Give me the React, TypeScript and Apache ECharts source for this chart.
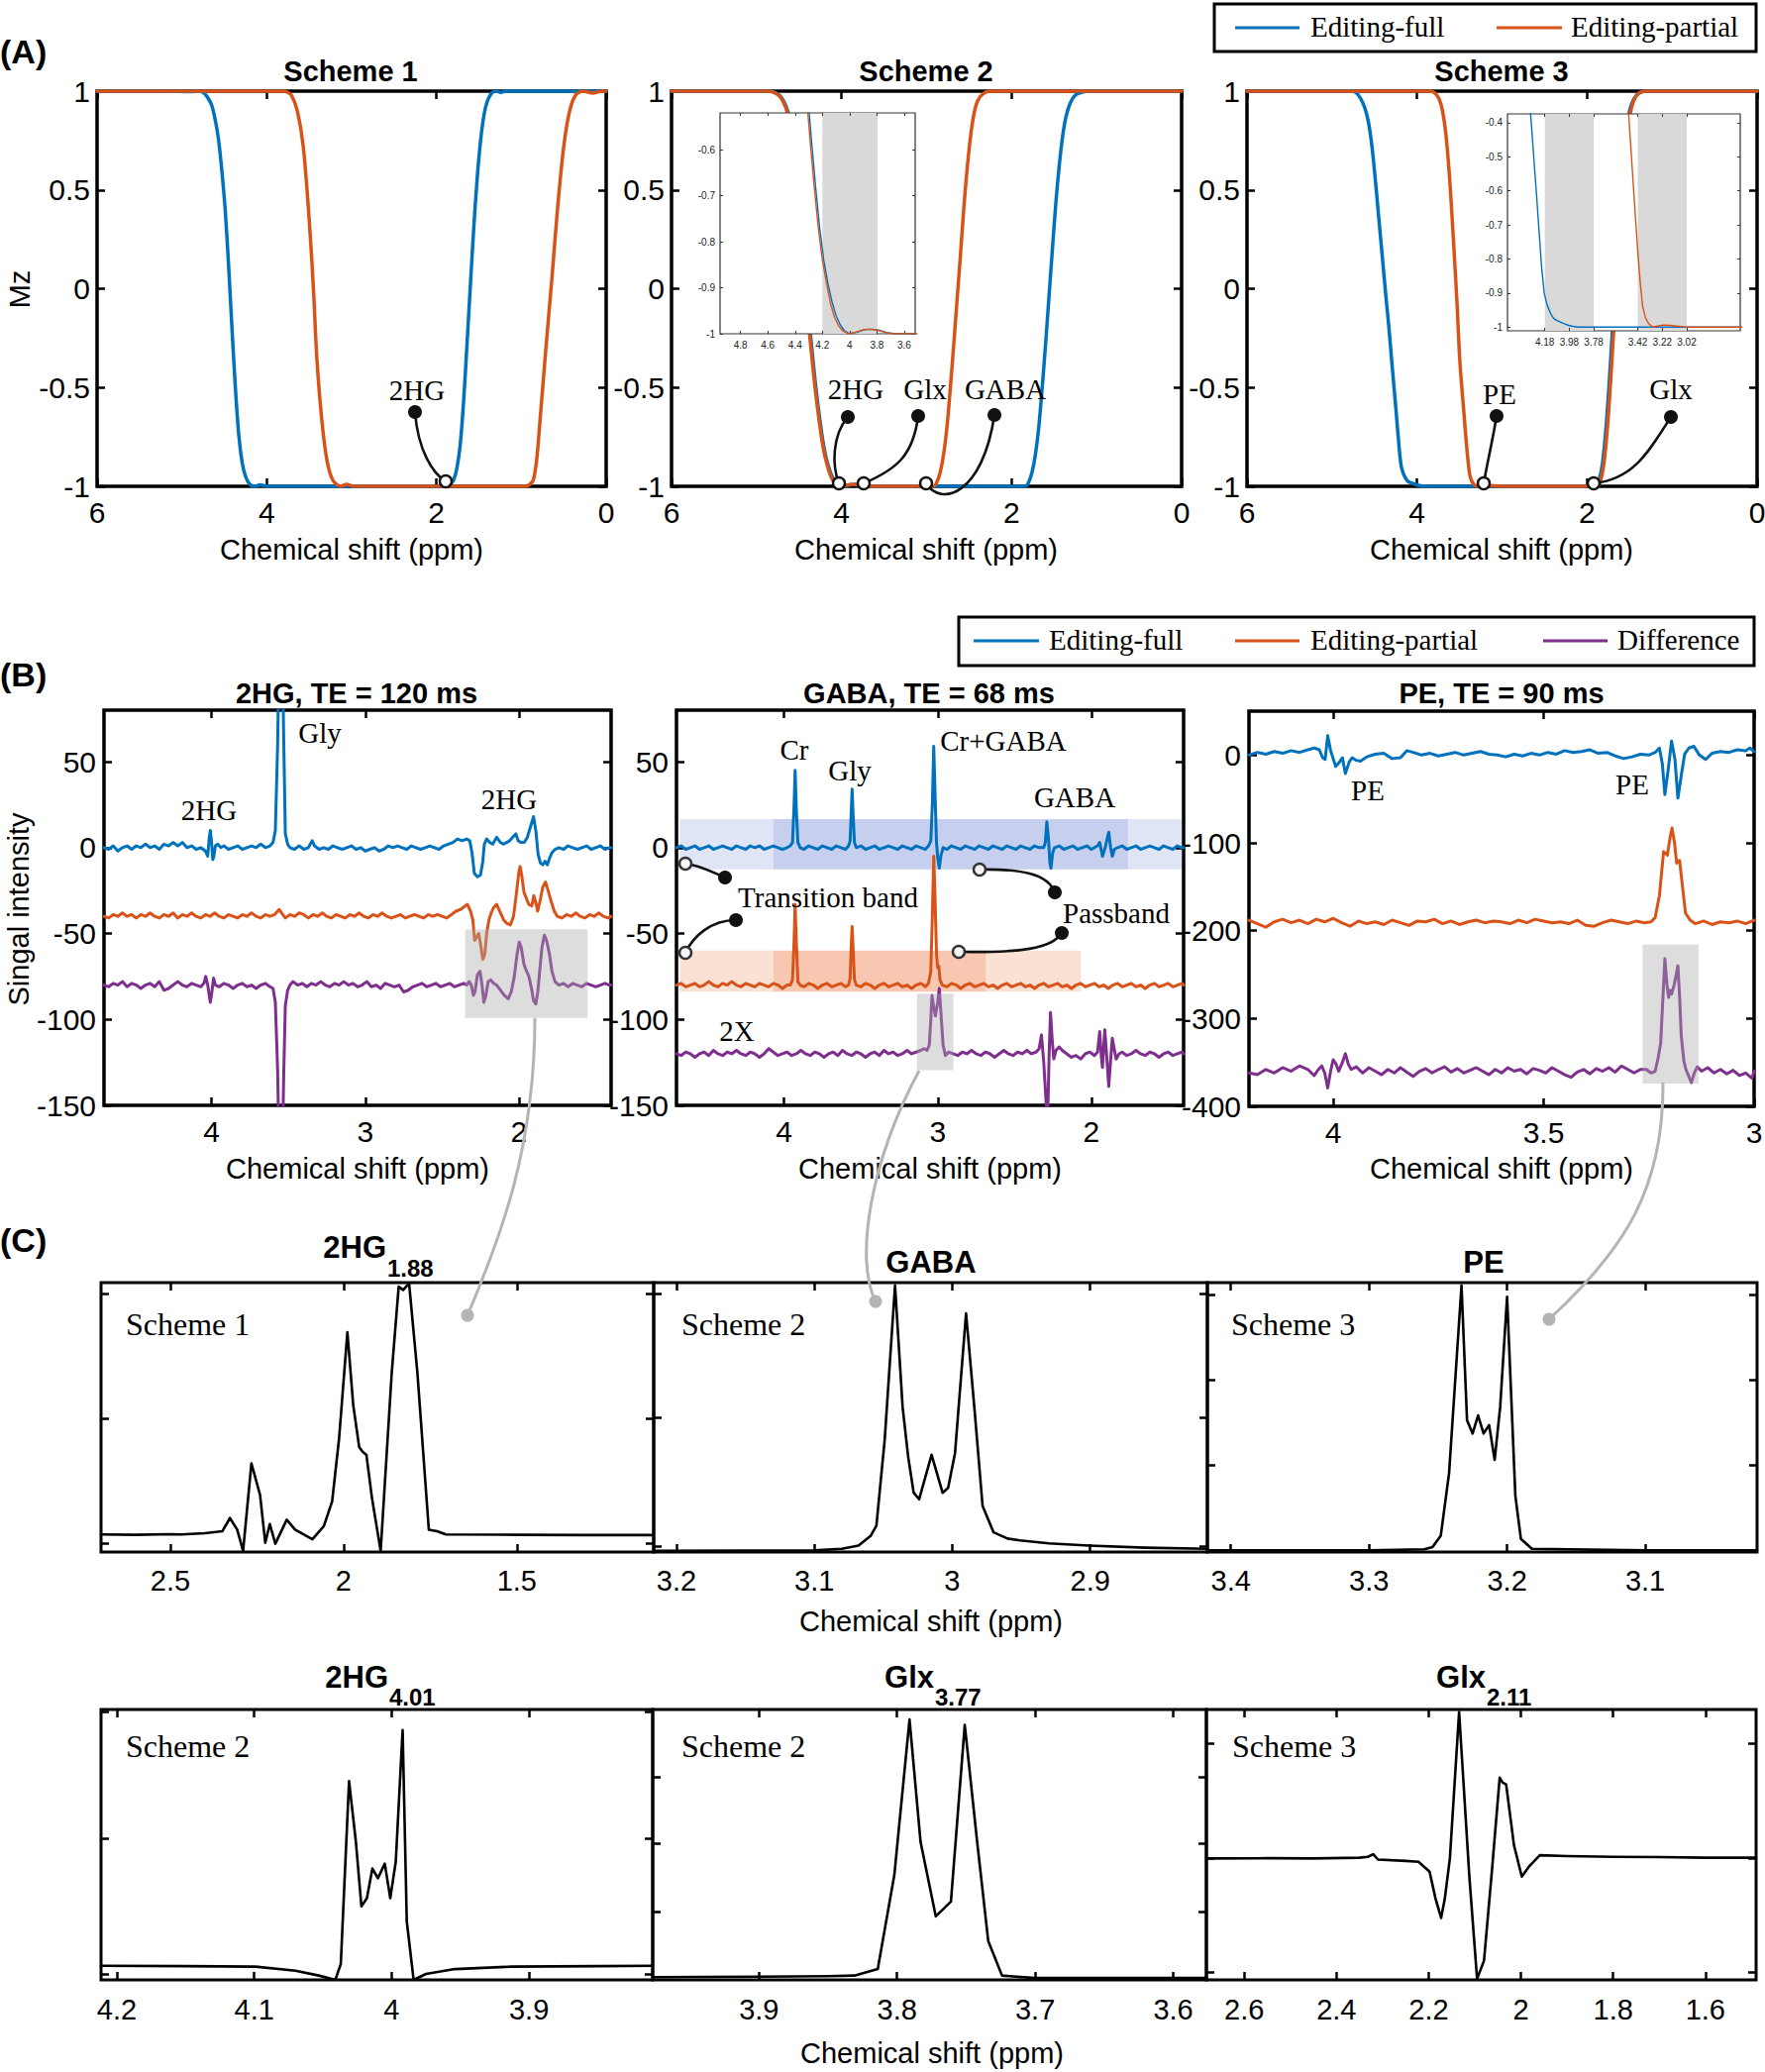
import React, { useEffect, useRef } from 'react';
import * as echarts from 'echarts';

const SANS = '"Liberation Sans", Arial, Helvetica, sans-serif';
const SERIF = '"Liberation Serif", "Times New Roman", serif';
const BLUE = '#0072BD';
const ORANGE = '#D95319';
const PURPLE = '#7E2F8E';
const BLACK = '#000000';

// ---------------- (A) Mz profiles, [ppm, Mz] ----------------
const mzTicksX = [0, 2, 4, 6];
const mzTicksY = [-1, -0.5, 0, 0.5, 1];

const s1Full = [[6,1],[5.2,1],[4.9,0.998],[4.78,1],[4.74,0.99],[4.7,0.97],[4.65,0.93],[4.61,0.86],[4.57,0.76],[4.53,0.6],[4.49,0.4],[4.45,0.12],[4.41,-0.2],[4.37,-0.5],[4.33,-0.74],[4.29,-0.88],[4.25,-0.95],[4.2,-0.99],[4.14,-1],[4.08,-0.993],[4.0,-1],[1.88,-1],[1.84,-0.99],[1.8,-0.97],[1.76,-0.91],[1.72,-0.79],[1.68,-0.57],[1.64,-0.28],[1.6,0.02],[1.56,0.31],[1.52,0.56],[1.48,0.75],[1.44,0.88],[1.4,0.95],[1.35,0.99],[1.3,1],[1.24,0.993],[1.18,1],[0,1]];
const s1Part = [[6,1],[3.8,1],[3.76,0.995],[3.71,0.98],[3.64,0.9],[3.57,0.72],[3.5,0.35],[3.45,0],[3.41,-0.35],[3.35,-0.67],[3.29,-0.87],[3.22,-0.97],[3.13,-1],[3.06,-0.99],[2.98,-1],[0.95,-1],[0.9,-0.99],[0.86,-0.97],[0.82,-0.87],[0.78,-0.67],[0.71,-0.3],[0.64,0.05],[0.57,0.42],[0.5,0.72],[0.43,0.9],[0.36,0.98],[0.27,1],[0.16,0.99],[0.05,1],[0,1]];
const s2Full = [[6,1],[4.84,1],[4.77,0.99],[4.71,0.97],[4.65,0.92],[4.6,0.84],[4.55,0.68],[4.5,0.45],[4.45,0.18],[4.4,-0.08],[4.35,-0.3],[4.31,-0.47],[4.28,-0.58],[4.25,-0.68],[4.22,-0.77],[4.19,-0.84],[4.16,-0.89],[4.13,-0.93],[4.1,-0.96],[4.07,-0.98],[4.04,-0.993],[4.0,-1],[3.95,-0.997],[3.89,-0.991],[3.84,-0.99],[3.79,-0.992],[3.73,-0.997],[3.67,-1],[1.84,-1],[1.8,-0.98],[1.76,-0.93],[1.72,-0.84],[1.68,-0.7],[1.64,-0.5],[1.6,-0.28],[1.56,-0.04],[1.52,0.2],[1.48,0.43],[1.44,0.62],[1.4,0.77],[1.36,0.87],[1.31,0.94],[1.25,0.98],[1.17,0.995],[1.08,1],[0,1]];
const s2Part = [[6,1],[4.85,1],[4.78,0.99],[4.72,0.97],[4.66,0.92],[4.61,0.84],[4.56,0.68],[4.51,0.45],[4.46,0.18],[4.41,-0.08],[4.36,-0.3],[4.32,-0.47],[4.29,-0.58],[4.26,-0.68],[4.23,-0.77],[4.2,-0.84],[4.17,-0.89],[4.14,-0.935],[4.11,-0.965],[4.08,-0.983],[4.05,-0.994],[4.01,-1],[3.96,-0.997],[3.9,-0.991],[3.85,-0.99],[3.8,-0.992],[3.74,-0.997],[3.68,-1],[2.92,-1],[2.88,-0.98],[2.84,-0.93],[2.8,-0.84],[2.76,-0.7],[2.72,-0.5],[2.68,-0.28],[2.64,-0.05],[2.6,0.18],[2.56,0.42],[2.52,0.62],[2.48,0.78],[2.44,0.89],[2.4,0.95],[2.34,0.985],[2.26,1],[0,1]];
const s3Full = [[6,1],[4.76,1],[4.71,0.99],[4.66,0.96],[4.61,0.91],[4.57,0.84],[4.53,0.72],[4.49,0.55],[4.45,0.36],[4.41,0.17],[4.37,-0.02],[4.33,-0.2],[4.296,-0.374],[4.25,-0.6],[4.207,-0.82],[4.185,-0.9],[4.161,-0.935],[4.13,-0.962],[4.107,-0.975],[4.08,-0.981],[4.053,-0.985],[4.02,-0.99],[3.986,-0.995],[3.95,-0.998],[3.905,-1],[1.9,-1],[1.86,-0.97],[1.82,-0.89],[1.78,-0.72],[1.74,-0.48],[1.7,-0.2],[1.66,0.1],[1.62,0.37],[1.58,0.6],[1.54,0.78],[1.5,0.9],[1.45,0.96],[1.39,0.99],[1.3,1],[0,1]];
const s3Part = [[6,1],[3.84,1],[3.79,0.99],[3.74,0.96],[3.7,0.9],[3.66,0.78],[3.62,0.58],[3.59,0.38],[3.56,0.16],[3.53,-0.07],[3.495,-0.374],[3.45,-0.62],[3.42,-0.78],[3.4,-0.87],[3.38,-0.94],[3.355,-0.975],[3.33,-0.99],[3.3,-1],[3.26,-0.997],[3.21,-0.994],[3.16,-0.995],[3.1,-0.997],[3.05,-0.999],[3.0,-1],[1.88,-1],[1.84,-0.97],[1.8,-0.88],[1.76,-0.7],[1.72,-0.45],[1.68,-0.16],[1.64,0.14],[1.6,0.4],[1.56,0.62],[1.52,0.8],[1.48,0.91],[1.43,0.97],[1.37,0.995],[1.3,1],[0,1]];

// insets
const in2TicksX = [3.6, 3.8, 4, 4.2, 4.4, 4.6, 4.8];
const in2TicksY = [-1, -0.9, -0.8, -0.7, -0.6];
const in2Band = [{ x: [4.2, 3.795], y: [-1, -0.52] }];
const in3TicksX = [3.02, 3.22, 3.42, 3.78, 3.98, 4.18];
const in3TicksY = [-1, -0.9, -0.8, -0.7, -0.6, -0.5, -0.4];
const in3Bands = [{ x: [4.18, 3.78], y: [-1.011, -0.374] }, { x: [3.42, 3.02], y: [-1.011, -0.374] }];

// ---------------- (B) spectra, [ppm, signal] ----------------
const bTicksX = [2, 3, 4];
const bTicksY = [-150, -100, -50, 0, 50];
const b3TicksX = [3, 3.5, 4];
const b3TicksY = [-400, -300, -200, -100, 0];

const b1Full = [[4.70,0],[4.67,-1],[4.64,1],[4.61,-2],[4.58,0],[4.55,1],[4.52,-1],[4.49,1],[4.46,0],[4.43,2],[4.40,0],[4.37,1],[4.34,-1],[4.31,2],[4.28,1],[4.25,3],[4.22,1],[4.19,3],[4.16,0],[4.13,1],[4.10,-1],[4.07,0],[4.04,-2],[4.025,-5],[4.015,6],[4.008,10],[4.0,3],[3.992,-7],[3.985,-5],[3.975,1],[3.96,2],[3.94,0],[3.92,1],[3.89,-1],[3.86,0],[3.83,1],[3.80,-1],[3.77,0],[3.74,1],[3.71,0],[3.68,2],[3.65,0],[3.62,1],[3.60,3],[3.585,10],[3.57,60],[3.56,120],[3.54,120],[3.53,60],[3.52,8],[3.505,2],[3.49,0],[3.46,-1],[3.43,1],[3.40,-1],[3.37,0],[3.345,4],[3.33,1],[3.30,-1],[3.27,0],[3.24,-1],[3.21,1],[3.18,0],[3.15,-1],[3.12,0],[3.09,1],[3.06,-1],[3.03,0],[3.0,-2],[2.97,-1],[2.94,0],[2.91,-2],[2.88,-1],[2.85,1],[2.82,0],[2.79,1],[2.76,0],[2.73,-1],[2.70,1],[2.67,0],[2.64,-1],[2.61,0],[2.58,1],[2.55,0],[2.52,-1],[2.49,1],[2.46,2],[2.43,3],[2.40,5],[2.37,4],[2.34,5],[2.32,4],[2.305,-3],[2.29,-15],[2.27,-17],[2.25,-16],[2.235,-8],[2.225,2],[2.21,5],[2.19,3],[2.17,2],[2.145,6],[2.12,3],[2.10,2],[2.08,3],[2.06,4],[2.04,6],[2.02,8],[2.005,4],[1.985,3],[1.965,3],[1.945,6],[1.925,12],[1.905,18],[1.89,10],[1.875,-4],[1.86,-9],[1.845,-10],[1.83,-8],[1.815,-10],[1.80,-6],[1.785,-3],[1.765,-1],[1.74,0],[1.71,-1],[1.68,1],[1.65,0],[1.62,-1],[1.59,0],[1.56,1],[1.53,-1],[1.50,0],[1.47,1],[1.44,-1],[1.41,0],[1.40,0]];
const b1Part = [[4.70,-40],[4.67,-41],[4.64,-39],[4.61,-40],[4.58,-38],[4.55,-40],[4.52,-39],[4.49,-41],[4.46,-39],[4.43,-40],[4.40,-38],[4.37,-40],[4.34,-41],[4.31,-39],[4.28,-40],[4.25,-38],[4.22,-41],[4.19,-39],[4.16,-40],[4.13,-38],[4.10,-40],[4.07,-41],[4.04,-39],[4.01,-40],[3.98,-38],[3.95,-40],[3.92,-41],[3.89,-39],[3.86,-40],[3.83,-41],[3.80,-39],[3.77,-40],[3.74,-38],[3.71,-40],[3.68,-41],[3.65,-39],[3.62,-40],[3.59,-39],[3.56,-36],[3.545,-38],[3.52,-41],[3.49,-39],[3.46,-40],[3.43,-38],[3.40,-39],[3.37,-41],[3.34,-39],[3.31,-40],[3.28,-38],[3.25,-40],[3.22,-41],[3.19,-39],[3.16,-40],[3.13,-41],[3.10,-39],[3.07,-40],[3.04,-38],[3.01,-40],[2.98,-41],[2.95,-39],[2.92,-40],[2.89,-38],[2.86,-40],[2.83,-41],[2.80,-40],[2.77,-39],[2.74,-41],[2.71,-40],[2.68,-39],[2.65,-40],[2.62,-41],[2.59,-39],[2.56,-40],[2.53,-39],[2.50,-40],[2.47,-41],[2.44,-39],[2.41,-37],[2.38,-36],[2.35,-34],[2.335,-33],[2.315,-37],[2.30,-42],[2.288,-54],[2.275,-52],[2.262,-50],[2.25,-56],[2.235,-65],[2.222,-62],[2.21,-50],[2.195,-42],[2.18,-38],[2.165,-35],[2.145,-33],[2.125,-37],[2.10,-42],[2.08,-44],[2.056,-45],[2.035,-40],[2.018,-28],[2.0,-14],[1.992,-11],[1.982,-16],[1.967,-26],[1.954,-29],[1.936,-33],[1.916,-34],[1.903,-28],[1.89,-32],[1.878,-37],[1.86,-30],[1.845,-23],[1.827,-20],[1.81,-25],[1.788,-32],[1.77,-37],[1.75,-40],[1.72,-41],[1.69,-39],[1.66,-40],[1.63,-38],[1.60,-40],[1.57,-41],[1.54,-39],[1.51,-40],[1.48,-38],[1.45,-40],[1.42,-41],[1.40,-40]];
const b1Diff = [[4.70,-80],[4.67,-81],[4.64,-79],[4.61,-80],[4.58,-78],[4.55,-81],[4.52,-79],[4.49,-80],[4.46,-82],[4.43,-80],[4.40,-79],[4.37,-81],[4.34,-78],[4.31,-83],[4.28,-82],[4.25,-80],[4.22,-78],[4.19,-80],[4.16,-81],[4.13,-79],[4.10,-80],[4.07,-81],[4.05,-79],[4.038,-75],[4.025,-80],[4.008,-90],[3.998,-84],[3.987,-76],[3.975,-80],[3.95,-81],[3.92,-79],[3.89,-80],[3.86,-82],[3.83,-80],[3.80,-79],[3.77,-81],[3.74,-80],[3.71,-82],[3.68,-80],[3.65,-79],[3.62,-81],[3.60,-82],[3.585,-90],[3.57,-130],[3.56,-180],[3.54,-180],[3.53,-130],[3.52,-92],[3.505,-83],[3.49,-80],[3.47,-78],[3.44,-80],[3.41,-79],[3.38,-81],[3.35,-79],[3.32,-80],[3.29,-78],[3.26,-80],[3.23,-81],[3.20,-79],[3.17,-80],[3.14,-78],[3.11,-80],[3.08,-79],[3.05,-81],[3.02,-80],[2.99,-78],[2.96,-81],[2.93,-80],[2.90,-82],[2.87,-79],[2.84,-80],[2.81,-81],[2.78,-80],[2.75,-84],[2.72,-83],[2.69,-81],[2.66,-80],[2.63,-79],[2.60,-81],[2.57,-80],[2.54,-79],[2.51,-81],[2.48,-80],[2.45,-79],[2.42,-81],[2.39,-80],[2.36,-79],[2.34,-80],[2.324,-78],[2.31,-80],[2.296,-86],[2.286,-84],[2.27,-74],[2.253,-72],[2.24,-80],[2.228,-90],[2.215,-86],[2.2,-78],[2.184,-77],[2.165,-79],[2.145,-80],[2.12,-83],[2.095,-86],[2.07,-88],[2.05,-84],[2.03,-75],[2.012,-62],[1.998,-55],[1.985,-58],[1.967,-68],[1.95,-72],[1.935,-75],[1.918,-82],[1.905,-89],[1.89,-91],[1.877,-84],[1.865,-72],[1.85,-58],[1.834,-51],[1.82,-54],[1.801,-62],[1.785,-72],[1.765,-78],[1.74,-80],[1.71,-79],[1.68,-81],[1.65,-79],[1.62,-80],[1.59,-81],[1.56,-79],[1.53,-80],[1.50,-81],[1.47,-80],[1.44,-79],[1.41,-80],[1.40,-80]];

const b2Full = [[4.70,0],[4.67,1],[4.64,-1],[4.61,0],[4.58,1],[4.55,-1],[4.52,0],[4.49,1],[4.46,-1],[4.43,0],[4.40,1],[4.37,0],[4.34,-1],[4.31,1],[4.28,0],[4.25,-1],[4.22,1],[4.19,0],[4.16,1],[4.13,-1],[4.10,0],[4.07,1],[4.04,0],[4.01,-1],[3.98,0],[3.96,1],[3.945,3],[3.935,24],[3.928,45],[3.92,22],[3.91,3],[3.895,0],[3.87,-1],[3.84,1],[3.81,0],[3.78,-1],[3.75,1],[3.72,0],[3.69,-1],[3.66,1],[3.63,0],[3.60,-1],[3.58,1],[3.57,4],[3.563,20],[3.557,34],[3.55,18],[3.542,3],[3.53,0],[3.50,1],[3.47,-1],[3.44,0],[3.41,1],[3.38,-1],[3.35,0],[3.32,1],[3.29,0],[3.26,-1],[3.23,1],[3.20,0],[3.17,-1],[3.14,1],[3.11,0],[3.08,-1],[3.06,1],[3.045,4],[3.035,25],[3.026,59],[3.017,30],[3.008,3],[3.0,-6],[2.99,-12],[2.98,-5],[2.965,0],[2.94,-1],[2.91,1],[2.88,0],[2.85,-1],[2.82,1],[2.79,0],[2.76,-1],[2.73,1],[2.70,0],[2.67,-1],[2.64,1],[2.61,0],[2.58,-1],[2.55,1],[2.52,0],[2.49,-1],[2.46,1],[2.43,0],[2.40,-1],[2.37,1],[2.34,0],[2.31,0],[2.30,3],[2.29,15],[2.28,6],[2.27,-9],[2.263,-12],[2.252,-3],[2.24,0],[2.21,1],[2.18,-1],[2.15,0],[2.12,1],[2.09,-1],[2.06,0],[2.03,1],[2.0,-1],[1.98,0],[1.96,1],[1.946,3],[1.928,-5],[1.91,0],[1.898,5],[1.887,9],[1.875,0],[1.864,-5],[1.85,-1],[1.83,0],[1.80,1],[1.77,-1],[1.74,0],[1.71,1],[1.68,-1],[1.65,0],[1.62,1],[1.59,0],[1.56,-1],[1.53,1],[1.50,0],[1.47,-1],[1.44,1],[1.41,0],[1.40,0]];
const b2Part = [[4.70,-80],[4.67,-79],[4.64,-81],[4.61,-80],[4.58,-79],[4.55,-81],[4.52,-80],[4.49,-78],[4.46,-80],[4.43,-81],[4.40,-79],[4.37,-80],[4.34,-78],[4.31,-80],[4.28,-81],[4.25,-79],[4.22,-80],[4.19,-81],[4.16,-79],[4.13,-80],[4.10,-81],[4.07,-79],[4.04,-80],[4.01,-82],[3.98,-80],[3.96,-80],[3.945,-77],[3.935,-55],[3.928,-33],[3.92,-55],[3.91,-78],[3.895,-80],[3.87,-81],[3.84,-79],[3.81,-80],[3.78,-82],[3.75,-80],[3.72,-79],[3.69,-81],[3.66,-80],[3.63,-79],[3.60,-81],[3.58,-80],[3.57,-76],[3.563,-58],[3.557,-46],[3.55,-60],[3.542,-77],[3.53,-80],[3.50,-81],[3.47,-79],[3.44,-80],[3.41,-82],[3.38,-80],[3.35,-79],[3.32,-81],[3.29,-80],[3.26,-79],[3.23,-81],[3.20,-80],[3.17,-82],[3.14,-80],[3.11,-79],[3.08,-81],[3.06,-79],[3.045,-72],[3.035,-40],[3.026,-5],[3.017,-30],[3.008,-62],[3.0,-70],[2.993,-69],[2.985,-77],[2.97,-80],[2.94,-81],[2.91,-79],[2.88,-80],[2.85,-82],[2.82,-80],[2.79,-79],[2.76,-81],[2.73,-80],[2.70,-79],[2.67,-81],[2.64,-80],[2.61,-82],[2.58,-80],[2.55,-79],[2.52,-81],[2.49,-80],[2.46,-79],[2.43,-81],[2.40,-80],[2.37,-82],[2.34,-80],[2.31,-79],[2.28,-81],[2.25,-80],[2.22,-79],[2.19,-81],[2.16,-80],[2.13,-82],[2.10,-80],[2.07,-79],[2.04,-81],[2.01,-80],[1.98,-79],[1.95,-81],[1.92,-80],[1.89,-82],[1.86,-80],[1.83,-79],[1.80,-81],[1.77,-80],[1.74,-79],[1.71,-81],[1.68,-80],[1.65,-82],[1.62,-80],[1.59,-79],[1.56,-81],[1.53,-80],[1.50,-79],[1.47,-81],[1.44,-80],[1.41,-79],[1.40,-80]];
const b2Diff = [[4.70,-120],[4.67,-121],[4.64,-119],[4.61,-120],[4.58,-122],[4.55,-120],[4.52,-119],[4.49,-121],[4.46,-118],[4.43,-120],[4.40,-121],[4.37,-119],[4.34,-120],[4.31,-118],[4.28,-120],[4.25,-121],[4.22,-119],[4.19,-120],[4.16,-122],[4.13,-120],[4.10,-117],[4.07,-119],[4.04,-121],[4.01,-120],[3.98,-119],[3.95,-121],[3.92,-120],[3.89,-118],[3.86,-120],[3.83,-121],[3.80,-119],[3.77,-120],[3.74,-122],[3.71,-120],[3.68,-119],[3.65,-121],[3.62,-118],[3.59,-120],[3.56,-121],[3.53,-119],[3.50,-120],[3.47,-122],[3.44,-120],[3.41,-119],[3.38,-121],[3.35,-118],[3.32,-120],[3.29,-119],[3.26,-121],[3.23,-120],[3.20,-118],[3.17,-120],[3.14,-119],[3.11,-118],[3.09,-117],[3.07,-118],[3.055,-115],[3.045,-100],[3.037,-86],[3.028,-92],[3.015,-98],[3.0,-90],[2.99,-82],[2.98,-95],[2.965,-115],[2.95,-121],[2.93,-119],[2.90,-120],[2.87,-121],[2.84,-119],[2.81,-120],[2.78,-118],[2.75,-120],[2.72,-121],[2.69,-119],[2.66,-120],[2.63,-122],[2.60,-120],[2.57,-118],[2.54,-120],[2.51,-121],[2.48,-119],[2.45,-120],[2.42,-118],[2.39,-120],[2.36,-119],[2.34,-117],[2.325,-109],[2.31,-125],[2.295,-148],[2.285,-160],[2.275,-120],[2.266,-96],[2.255,-112],[2.245,-123],[2.23,-118],[2.21,-116],[2.19,-118],[2.16,-120],[2.13,-122],[2.10,-121],[2.07,-123],[2.04,-120],[2.01,-119],[1.98,-121],[1.96,-119],[1.946,-107],[1.935,-122],[1.928,-128],[1.92,-116],[1.913,-106],[1.90,-122],[1.887,-139],[1.875,-124],[1.864,-111],[1.85,-118],[1.839,-123],[1.82,-120],[1.80,-119],[1.77,-121],[1.74,-120],[1.71,-118],[1.68,-120],[1.65,-121],[1.62,-119],[1.59,-120],[1.56,-122],[1.53,-120],[1.50,-119],[1.47,-121],[1.44,-120],[1.41,-119],[1.40,-120]];

const b3Full = [[4.20,0],[4.18,3],[4.16,1],[4.14,4],[4.12,2],[4.10,5],[4.08,3],[4.06,6],[4.045,8],[4.033,6],[4.025,-3],[4.019,-5],[4.013,22],[4.006,5],[4.0,-4],[3.994,-13],[3.985,-8],[3.978,-3],[3.971,-21],[3.962,-8],[3.955,-3],[3.945,-6],[3.935,-7],[3.92,-2],[3.90,1],[3.88,2],[3.86,-4],[3.84,-3],[3.825,5],[3.81,3],[3.79,0],[3.77,2],[3.75,-1],[3.73,1],[3.71,3],[3.69,0],[3.67,2],[3.65,4],[3.63,1],[3.61,0],[3.59,-2],[3.57,1],[3.55,-1],[3.53,2],[3.51,0],[3.49,3],[3.47,1],[3.45,5],[3.43,3],[3.41,4],[3.39,6],[3.37,2],[3.35,3],[3.33,-1],[3.31,-4],[3.29,-2],[3.27,1],[3.25,0],[3.235,3],[3.225,8],[3.218,-10],[3.212,-45],[3.205,-20],[3.196,16],[3.188,-5],[3.181,-49],[3.172,-20],[3.165,1],[3.155,8],[3.143,10],[3.13,0],[3.115,-5],[3.10,2],[3.08,4],[3.06,3],[3.04,6],[3.02,5],[3.01,8],[3.0,4]];
const b3Part = [[4.20,-188],[4.18,-192],[4.16,-196],[4.14,-190],[4.12,-187],[4.10,-191],[4.08,-188],[4.06,-192],[4.04,-187],[4.02,-190],[4.0,-186],[3.98,-191],[3.96,-195],[3.94,-189],[3.92,-192],[3.90,-190],[3.88,-193],[3.86,-188],[3.84,-191],[3.82,-194],[3.80,-189],[3.78,-190],[3.76,-187],[3.74,-192],[3.72,-189],[3.70,-193],[3.68,-190],[3.66,-188],[3.64,-191],[3.62,-189],[3.60,-190],[3.58,-192],[3.56,-188],[3.54,-191],[3.52,-187],[3.50,-189],[3.48,-191],[3.46,-190],[3.44,-192],[3.42,-188],[3.40,-194],[3.38,-195],[3.36,-191],[3.34,-188],[3.32,-190],[3.30,-192],[3.28,-189],[3.26,-191],[3.245,-190],[3.235,-185],[3.225,-160],[3.215,-110],[3.206,-114],[3.2,-95],[3.195,-83],[3.189,-100],[3.184,-123],[3.177,-120],[3.17,-150],[3.163,-180],[3.152,-188],[3.14,-192],[3.12,-189],[3.10,-193],[3.08,-190],[3.06,-191],[3.04,-189],[3.02,-192],[3.0,-188]];
const b3Diff = [[4.20,-362],[4.18,-364],[4.16,-358],[4.14,-362],[4.12,-356],[4.10,-360],[4.08,-354],[4.06,-358],[4.045,-365],[4.035,-358],[4.027,-354],[4.02,-362],[4.013,-379],[4.006,-360],[4.0,-347],[3.993,-352],[3.987,-360],[3.978,-350],[3.971,-340],[3.964,-352],[3.957,-358],[3.945,-355],[3.93,-362],[3.915,-356],[3.90,-360],[3.885,-364],[3.87,-358],[3.855,-362],[3.84,-356],[3.825,-361],[3.81,-366],[3.795,-360],[3.78,-357],[3.765,-362],[3.75,-358],[3.735,-355],[3.72,-361],[3.705,-357],[3.69,-362],[3.675,-359],[3.66,-356],[3.645,-360],[3.63,-364],[3.615,-358],[3.60,-362],[3.585,-356],[3.57,-360],[3.555,-358],[3.54,-363],[3.525,-357],[3.51,-359],[3.495,-362],[3.48,-356],[3.465,-360],[3.45,-364],[3.435,-367],[3.42,-361],[3.405,-358],[3.39,-363],[3.375,-357],[3.36,-360],[3.345,-356],[3.33,-361],[3.315,-354],[3.30,-358],[3.285,-362],[3.27,-358],[3.256,-358],[3.245,-362],[3.235,-360],[3.228,-345],[3.222,-328],[3.217,-280],[3.212,-232],[3.207,-262],[3.203,-276],[3.199,-268],[3.196,-272],[3.19,-262],[3.185,-250],[3.181,-240],[3.177,-275],[3.173,-320],[3.167,-348],[3.162,-358],[3.155,-366],[3.149,-373],[3.142,-362],[3.135,-355],[3.125,-360],[3.11,-356],[3.095,-362],[3.08,-358],[3.065,-363],[3.05,-359],[3.035,-365],[3.02,-362],[3.005,-368],[3.0,-360]];

const b1Box = [{ x: [2.35, 1.553], y: [-47.6, -99.1] }];
const b2Box = [{ x: [3.135, 2.898], y: [-85, -129.6] }];
const b3Box = [{ x: [3.265, 3.132], y: [-216, -374] }];
const b2Bands = [
  { x: [4.678, 1.762], y: [16.6, -12.6], c: 'rgba(70,100,200,0.17)' },
  { x: [4.069, 1.409], y: [16.6, -12.6], c: 'rgba(70,100,200,0.17)' },
  { x: [4.678, 2.688], y: [-60, -83.8], c: 'rgba(235,100,40,0.2)' },
  { x: [4.069, 2.069], y: [-60, -83.8], c: 'rgba(235,100,40,0.2)' },
];

// ---------------- (C) edited difference spectra (normalised) ----------------
const c1Data = [[2.70,0.065],[2.60,0.064],[2.5,0.066],[2.467,0.065],[2.40,0.07],[2.35,0.077],[2.328,0.126],[2.307,0.083],[2.29,0.004],[2.266,0.329],[2.241,0.212],[2.226,0.034],[2.213,0.104],[2.197,0.031],[2.164,0.12],[2.14,0.083],[2.09,0.047],[2.057,0.096],[2.033,0.188],[2.013,0.421],[1.989,0.816],[1.972,0.544],[1.955,0.39],[1.945,0.372],[1.934,0.36],[1.918,0.2],[1.893,0.004],[1.861,0.666],[1.841,0.985],[1.828,0.973],[1.811,0.998],[1.787,0.666],[1.754,0.083],[1.73,0.077],[1.705,0.065],[1.5,0.064],[1.3,0.063],[1.105,0.063]];
const c2Data = [[3.2165,0.004],[3.15,0.005],[3.10,0.006],[3.08,0.012],[3.068,0.024],[3.059,0.061],[3.055,0.098],[3.049,0.416],[3.0415,0.99],[3.036,0.538],[3.032,0.355],[3.028,0.22],[3.024,0.196],[3.015,0.361],[3.007,0.22],[3.003,0.238],[2.998,0.367],[2.99,0.886],[2.984,0.538],[2.978,0.171],[2.97,0.073],[2.96,0.05],[2.951,0.043],[2.93,0.032],[2.901,0.024],[2.86,0.016],[2.815,0.012]];
const c3Data = [[3.417,0.006],[3.35,0.006],[3.3,0.006],[3.26,0.01],[3.254,0.018],[3.248,0.061],[3.242,0.293],[3.233,0.99],[3.229,0.489],[3.225,0.44],[3.221,0.507],[3.217,0.44],[3.213,0.471],[3.209,0.342],[3.205,0.538],[3.2,0.947],[3.194,0.208],[3.19,0.049],[3.182,0.012],[3.1,0.006],[3.019,0.006]];
const c4Data = [[4.2115,0.052],[4.15,0.051],[4.099,0.049],[4.07,0.034],[4.053,0.016],[4.041,0.0],[4.037,0.059],[4.031,0.735],[4.026,0.51],[4.022,0.272],[4.018,0.302],[4.014,0.412],[4.01,0.376],[4.005,0.43],[4.001,0.302],[3.997,0.437],[3.992,0.924],[3.989,0.217],[3.984,0.0],[3.975,0.022],[3.954,0.04],[3.913,0.049],[3.85,0.051],[3.81,0.052]];
const c5Data = [[3.977,0.01],[3.9,0.012],[3.85,0.014],[3.831,0.016],[3.814,0.04],[3.802,0.388],[3.791,0.963],[3.783,0.51],[3.772,0.235],[3.761,0.29],[3.751,0.943],[3.742,0.51],[3.734,0.144],[3.724,0.016],[3.7,0.007],[3.65,0.007],[3.576,0.007]];
const c6Data = [[2.682,0.449],[2.55,0.45],[2.45,0.449],[2.35,0.452],[2.332,0.455],[2.32,0.465],[2.31,0.445],[2.25,0.44],[2.222,0.437],[2.198,0.4],[2.185,0.3],[2.173,0.229],[2.165,0.3],[2.154,0.449],[2.134,0.991],[2.112,0.388],[2.095,0.004],[2.08,0.071],[2.063,0.4],[2.046,0.748],[2.04,0.73],[2.032,0.723],[2.015,0.498],[1.998,0.382],[1.983,0.418],[1.959,0.461],[1.9,0.458],[1.8,0.455],[1.7,0.454],[1.6,0.452],[1.49,0.452]];

const c1TicksX = [1.5, 2, 2.5];
const c2TicksX = [2.9, 3, 3.1, 3.2];
const c3TicksX = [3.1, 3.2, 3.3, 3.4];
const c4TicksX = [3.9, 4, 4.1, 4.2];
const c5TicksX = [3.6, 3.7, 3.8, 3.9];
const c6TicksX = [1.6, 1.8, 2, 2.2, 2.4, 2.6];

// ---------------- layout ----------------
type Panel = { r: number[]; x: number[]; y: number[]; xt: number[]; yt: number[]; lx: boolean; ly: boolean; fs: number; xm: number; ym: number; bw: number; bc: string; tl: number; tw: number; inset?: boolean };
const A = { lx: true, ly: true, fs: 30, xm: 11, ym: 7, bw: 3.5, bc: '#000', tl: 8, tw: 2.5 };
const Bp = { lx: true, ly: true, fs: 30, xm: 11, ym: 8, bw: 3.5, bc: '#000', tl: 8, tw: 2.5 };
const Cp = { lx: true, ly: false, fs: 29, xm: 14, ym: 6, bw: 3, bc: '#000', tl: 8, tw: 2.5 };
const IN = { lx: true, ly: true, fs: 10, xm: 6, ym: 5, bw: 1.2, bc: '#333', tl: 3, tw: 1, inset: true };

const PANELS: Panel[] = [
  { ...A, r: [98, 92, 514, 399], x: [0, 6], y: [-1, 1], xt: mzTicksX, yt: mzTicksY },
  { ...A, r: [678, 92, 515, 399], x: [0, 6], y: [-1, 1], xt: mzTicksX, yt: mzTicksY },
  { ...A, r: [1259, 92, 515, 399], x: [0, 6], y: [-1, 1], xt: mzTicksX, yt: mzTicksY },
  { ...IN, r: [727, 114, 197, 223], x: [3.52, 4.95], y: [-1, -0.52], xt: in2TicksX, yt: in2TicksY },
  { ...IN, r: [1522, 115, 235, 219], x: [2.583, 4.485], y: [-1.011, -0.374], xt: in3TicksX, yt: in3TicksY },
  { ...Bp, r: [105, 717, 512, 399], x: [1.4, 4.7], y: [-150, 80], xt: bTicksX, yt: bTicksY },
  { ...Bp, r: [683, 717, 512, 399], x: [1.4, 4.7], y: [-150, 80], xt: bTicksX, yt: bTicksY },
  { ...Bp, r: [1261, 718, 510, 399], x: [3.0, 4.2], y: [-400, 50], xt: b3TicksX, yt: b3TicksY },
  { ...Cp, r: [102, 1295, 558, 272], x: [1.105, 2.7], y: [0, 1], xt: c1TicksX, yt: [0.034, 0.494, 0.957] },
  { ...Cp, r: [660, 1295, 559, 272], x: [2.815, 3.2165], y: [0, 1], xt: c2TicksX, yt: [0.02, 0.5, 0.96] },
  { ...Cp, r: [1219, 1295, 555, 272], x: [3.019, 3.417], y: [0, 1], xt: c3TicksX, yt: [0.322, 0.638, 0.956] },
  { ...Cp, xm: 15, r: [102, 1726, 557, 273], x: [3.81, 4.2115], y: [0, 1], xt: c4TicksX, yt: [0.022, 0.522, 0.99] },
  { ...Cp, xm: 15, r: [659, 1726, 559, 273], x: [3.576, 3.977], y: [0, 1], xt: c5TicksX, yt: [0.251, 0.504, 0.751] },
  { ...Cp, xm: 15, r: [1218, 1726, 555, 273], x: [1.49, 2.682], y: [0, 1], xt: c6TicksX, yt: [0.03, 0.45, 0.876] },
];

const fmt = (v: number) => String(parseFloat(Number(v).toFixed(3)));

function buildAxes() {
  const grid: any[] = [], xAxis: any[] = [], yAxis: any[] = [];
  PANELS.forEach((p, i) => {
    grid.push({ left: p.r[0], top: p.r[1], width: p.r[2], height: p.r[3], show: true, borderColor: p.bc, borderWidth: p.bw,
      backgroundColor: p.inset ? '#ffffff' : 'transparent', z: p.inset ? 10 : 0, containLabel: false, outerBoundsMode: 'none' });
    const az = p.inset ? 12 : 1;
    const tick = (vals: number[]) => ({ show: true, inside: true, length: p.tl, lineStyle: { color: p.bc, width: p.tw }, customValues: vals });
    const lab = (show: boolean, margin: number, vals: number[]) => ({ show, margin, customValues: vals, fontFamily: SANS, fontSize: p.fs, color: p.inset ? '#222' : '#000', formatter: fmt });
    const common = { type: 'value', gridIndex: i, z: az, axisLine: { show: false, onZero: false }, splitLine: { show: false }, splitArea: { show: false } };
    xAxis.push({ ...common, position: 'bottom', min: p.x[0], max: p.x[1], inverse: true, axisTick: tick(p.xt), axisLabel: lab(p.lx, p.xm, p.xt) });
    xAxis.push({ ...common, position: 'top', min: p.x[0], max: p.x[1], inverse: true, axisTick: tick(p.xt), axisLabel: lab(false, 0, p.xt) });
    yAxis.push({ ...common, position: 'left', min: p.y[0], max: p.y[1], axisTick: tick(p.yt), axisLabel: lab(p.ly, p.ym, p.yt) });
    yAxis.push({ ...common, position: 'right', min: p.y[0], max: p.y[1], axisTick: tick(p.yt), axisLabel: lab(false, 0, p.yt) });
  });
  return { grid, xAxis, yAxis };
}

const ln = (gi: number, data: number[][], color: string, width: number, z: number, extra: any = {}) => ({
  type: 'line', xAxisIndex: gi * 2, yAxisIndex: gi * 2, data, symbol: 'none', showSymbol: false, silent: true,
  animation: false, z, clip: true, lineStyle: { color, width, join: 'round', cap: 'round' }, emphasis: { disabled: true }, ...extra,
});

const rects = (list: any[], color: string | null, z: number) => ({
  silent: true, z, label: { show: false }, emphasis: { disabled: true },
  data: list.map((r) => {
    const st = { color: r.c || color, opacity: 1, borderWidth: 0 };
    return [{ xAxis: r.x[0], yAxis: r.y[0], itemStyle: st }, { xAxis: r.x[1], yAxis: r.y[1], itemStyle: st }];
  }),
});

function buildSeries() {
  const s: any[] = [];
  const sm = { smooth: 0.3 };
  s.push(ln(0, s1Full, BLUE, 3.5, 2, sm), ln(0, s1Part, ORANGE, 3.5, 3, sm));
  s.push(ln(1, s2Full, BLUE, 3.5, 2, sm), ln(1, s2Part, ORANGE, 3.5, 3, sm));
  s.push(ln(2, s3Full, BLUE, 3.5, 2, sm), ln(2, s3Part, ORANGE, 3.5, 3, sm));
  s.push(ln(3, s2Full, BLUE, 1.4, 13, { markArea: rects(in2Band, '#d9d9d9', 11) }), ln(3, s2Part, ORANGE, 1.4, 14));
  s.push(ln(4, s3Full, BLUE, 1.4, 13, { markArea: rects(in3Bands, '#d9d9d9', 11) }), ln(4, s3Part, ORANGE, 1.4, 14));
  const gray = 'rgba(170,170,170,0.4)';
  s.push(ln(5, b1Full, BLUE, 3, 2), ln(5, b1Part, ORANGE, 3, 3), ln(5, b1Diff, PURPLE, 3, 4, { markArea: rects(b1Box, gray, 6) }));
  s.push(ln(6, b2Full, BLUE, 3, 2, { markArea: rects(b2Bands, null, 1) }), ln(6, b2Part, ORANGE, 3, 3), ln(6, b2Diff, PURPLE, 3, 4, { markArea: rects(b2Box, gray, 6) }));
  s.push(ln(7, b3Full, BLUE, 3, 2), ln(7, b3Part, ORANGE, 3, 3), ln(7, b3Diff, PURPLE, 3, 4, { markArea: rects(b3Box, gray, 6) }));
  [c1Data, c2Data, c3Data, c4Data, c5Data, c6Data].forEach((d, k) => s.push(ln(8 + k, d, BLACK, 2.6, 3)));
  return s;
}

// ---------------- annotations (pixel layout) ----------------
const txt = (text: string, x: number, y: number, o: any = {}) => {
  const align = o.align || 'center';
  const va = o.va || 'middle';
  return {
    type: 'text', x, y, z: 30, silent: true, rotation: o.rot || 0,
    style: { text, fill: o.fill || '#000', fontFamily: o.ff || SANS, fontSize: o.fs || 29, fontWeight: o.fw || 'normal',
      textAlign: align, align, textVerticalAlign: va, verticalAlign: va },
  };
};
const circ = (cx: number, cy: number, r: number, fill: string, stroke: string | null, lw = 0) => ({
  type: 'circle', z: 31, silent: true, shape: { cx, cy, r }, style: { fill, stroke: stroke || undefined, lineWidth: lw },
});
const bez = (p0: number[], c1: number[], c2: number[], p1: number[], color: string, lw: number) => ({
  type: 'bezierCurve', z: 30, silent: true,
  shape: { x1: p0[0], y1: p0[1], cpx1: c1[0], cpy1: c1[1], cpx2: c2[0], cpy2: c2[1], x2: p1[0], y2: p1[1] },
  style: { stroke: color, lineWidth: lw, fill: 'none' },
});
const seg = (x1: number, y1: number, x2: number, y2: number, color: string, lw: number) => ({
  type: 'line', z: 30, silent: true, shape: { x1, y1, x2, y2 }, style: { stroke: color, lineWidth: lw },
});

const calloutsA = [
  { dot: [419, 416], end: [450, 486], c1: [422, 455], c2: [437, 478] },
  { dot: [856, 421], end: [847, 488], c1: [840, 440], c2: [840, 470] },
  { dot: [927, 420], end: [872, 488], c1: [922, 460], c2: [905, 474] },
  { dot: [1004, 419], end: [935, 488], c1: [992, 500], c2: [950, 512] },
  { dot: [1511, 420], end: [1498, 488], c1: [1507, 445], c2: [1502, 465] },
  { dot: [1687, 421], end: [1609, 488], c1: [1665, 455], c2: [1650, 484] },
];
const calloutsB = [
  { dot: [732, 886], end: [692, 872], c1: [718, 880], c2: [705, 873] },
  { dot: [743, 929], end: [692, 962], c1: [718, 929], c2: [700, 945] },
  { dot: [1065, 901], end: [989, 878], c1: [1058, 882], c2: [1030, 877] },
  { dot: [1072, 942], end: [968, 961], c1: [1062, 958], c2: [1030, 962] },
];
const connectors = [
  { from: [540, 1028], c1: [540, 1160], c2: [505, 1250], to: [472, 1328] },
  { from: [928, 1081], c1: [880, 1170], c2: [862, 1270], to: [884, 1314] },
  { from: [1679, 1093], c1: [1680, 1200], c2: [1640, 1262], to: [1564, 1332] },
];

function buildGraphic() {
  const g: any[] = [];
  const bold = { fw: 'bold', fs: 29 };
  // panel letters
  g.push(txt('(A)', 0, 52, { fw: 'bold', fs: 34, align: 'left' }));
  g.push(txt('(B)', 0, 681, { fw: 'bold', fs: 34, align: 'left' }));
  g.push(txt('(C)', 0, 1252, { fw: 'bold', fs: 34, align: 'left' }));
  // titles
  g.push(txt('Scheme 1', 354, 72, bold), txt('Scheme 2', 935, 72, bold), txt('Scheme 3', 1516, 72, bold));
  g.push(txt('2HG, TE = 120 ms', 360, 700, bold), txt('GABA, TE = 68 ms', 938, 700, bold), txt('PE, TE = 90 ms', 1516, 700, bold));
  // C titles with subscripts
  const ct = { fw: 'bold', fs: 31, align: 'right' };
  const cs2 = { fw: 'bold', fs: 24, align: 'left' };
  g.push(txt('2HG', 390, 1259, ct), txt('1.88', 391, 1280, cs2));
  g.push(txt('GABA', 940, 1274, { fw: 'bold', fs: 31 }), txt('PE', 1498, 1274, { fw: 'bold', fs: 31 }));
  g.push(txt('2HG', 392, 1693, ct), txt('4.01', 393, 1713, cs2));
  g.push(txt('Glx', 943, 1693, ct), txt('3.77', 944, 1713, cs2));
  g.push(txt('Glx', 1500, 1693, ct), txt('2.11', 1501, 1713, cs2));
  // axis names
  const cs = 'Chemical shift (ppm)';
  [[355, 555], [935, 555], [1516, 555], [361, 1180], [939, 1180], [1516, 1180], [940, 1637], [941, 2073]].forEach(([x, y]) => g.push(txt(cs, x, y)));
  g.push(txt('Mz', 20, 292, { rot: Math.PI / 2 }));
  g.push(txt('Singal intensity', 19, 918, { rot: Math.PI / 2 }));
  // serif annotations
  const sf = { ff: SERIF, fs: 29 };
  [['2HG', 421, 394], ['2HG', 864, 393], ['Glx', 934, 393], ['GABA', 1015, 393], ['PE', 1514, 398], ['Glx', 1687, 393],
   ['2HG', 211, 818], ['Gly', 323, 740], ['2HG', 514, 807], ['Cr', 802, 757], ['Gly', 858, 778], ['Cr+GABA', 1013, 748],
   ['GABA', 1085, 805], ['Transition band', 836, 906], ['Passband', 1127, 922], ['2X', 744, 1041], ['PE', 1381, 798], ['PE', 1648, 792]]
    .forEach(([t, x, y]) => g.push(txt(t as string, x as number, y as number, sf)));
  const sc = { ff: SERIF, fs: 32, align: 'left' };
  [['Scheme 1', 127, 1337], ['Scheme 2', 688, 1337], ['Scheme 3', 1243, 1337], ['Scheme 2', 127, 1763], ['Scheme 2', 688, 1763], ['Scheme 3', 1244, 1763]]
    .forEach(([t, x, y]) => g.push(txt(t as string, x as number, y as number, sc)));
  // callouts
  calloutsA.forEach((c) => {
    g.push(bez(c.dot, c.c1, c.c2, c.end, '#111', 2.6));
    g.push(circ(c.dot[0], c.dot[1], 7, '#111', null));
    g.push(circ(c.end[0], c.end[1], 6, '#fff', '#111', 2.4));
  });
  calloutsB.forEach((c) => {
    g.push(bez(c.dot, c.c1, c.c2, c.end, '#111', 2.6));
    g.push(circ(c.dot[0], c.dot[1], 7, '#111', null));
    g.push(circ(c.end[0], c.end[1], 6, '#f4f4f4', '#333', 2.4));
  });
  connectors.forEach((c) => {
    g.push(bez(c.from, c.c1, c.c2, c.to, '#b4b4b4', 3));
    g.push(circ(c.to[0], c.to[1], 6.5, '#b4b4b4', null));
  });
  // legends
  g.push({ type: 'rect', z: 29, silent: true, shape: { x: 1226, y: 4, width: 547, height: 48 }, style: { fill: '#fff', stroke: '#000', lineWidth: 3 } });
  g.push(seg(1247, 28, 1312, 28, BLUE, 3), txt('Editing-full', 1323, 27, { ff: SERIF, fs: 29, align: 'left' }));
  g.push(seg(1511, 28, 1577, 28, ORANGE, 3), txt('Editing-partial', 1586, 27, { ff: SERIF, fs: 29, align: 'left' }));
  g.push({ type: 'rect', z: 29, silent: true, shape: { x: 968, y: 623, width: 803, height: 49 }, style: { fill: '#fff', stroke: '#000', lineWidth: 3 } });
  g.push(seg(983, 647, 1049, 647, BLUE, 3), txt('Editing-full', 1059, 646, { ff: SERIF, fs: 29, align: 'left' }));
  g.push(seg(1247, 647, 1312, 647, ORANGE, 3), txt('Editing-partial', 1323, 646, { ff: SERIF, fs: 29, align: 'left' }));
  g.push(seg(1558, 647, 1623, 647, PURPLE, 3), txt('Difference', 1633, 646, { ff: SERIF, fs: 29, align: 'left' }));
  return g;
}

export default function App() {
  const ref = useRef<HTMLDivElement>(null);
  useEffect(() => {
    document.body.style.margin = '0';
    if (!ref.current) return;
    const chart = echarts.init(ref.current, undefined, { renderer: 'svg', width: 1782, height: 2092 });
    const { grid, xAxis, yAxis } = buildAxes();
    chart.setOption({
      animation: false,
      backgroundColor: '#ffffff',
      textStyle: { fontFamily: SANS },
      grid, xAxis, yAxis,
      series: buildSeries(),
      graphic: { elements: buildGraphic() },
    });
    return () => chart.dispose();
  }, []);
  return <div ref={ref} style={{ position: 'absolute', left: 0, top: 0, width: 1782, height: 2092 }} />;
}
